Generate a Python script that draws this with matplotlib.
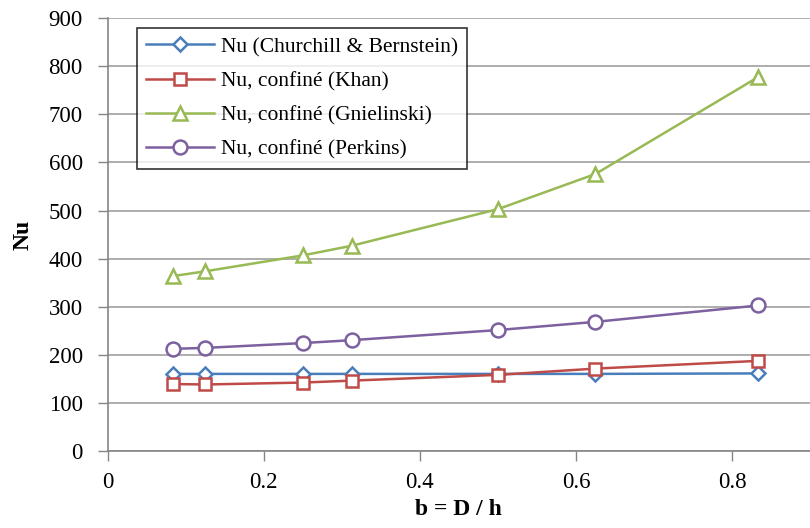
import matplotlib.pyplot as plt

# Data
b_values = [1/12, 0.125, 0.25, 0.3125, 0.5, 0.625, 5/6]
nu_churchill = [161, 161, 161, 161, 161, 161, 162]
nu_khan = [140, 139, 143, 147, 159, 172, 188]
nu_gnielinski = [364, 374, 407, 427, 503, 576, 777]
nu_perkins = [213, 215, 225, 231, 252, 269, 303]

labels = ["Nu (Churchill & Bernstein)", "Nu, confiné (Khan)",
          "Nu, confiné (Gnielinski)", "Nu, confiné (Perkins)"]
x_ticks = [0, 0.2, 0.4, 0.6, 0.8]
x_ticklabels = ['0', '0.2', '0.4', '0.6', '0.8']
y_ticks = [0, 100, 200, 300, 400, 500, 600, 700, 800, 900]

plt.rcParams['font.family'] = ['Liberation Serif', 'DejaVu Serif']

fig = plt.figure(figsize=(8.1, 5.28), dpi=100)
ax = fig.add_axes([0.133, 0.145, 0.867, 0.821])

grey = '#868686'

# Series: values, colour, marker, marker size
series = [
    (nu_churchill, '#4A7EBB', 'D', 7),
    (nu_khan, '#BE4B48', 's', 9),
    (nu_gnielinski, '#98B954', '^', 10),
    (nu_perkins, '#7D60A0', 'o', 10),
]
for (vals, col, mk, ms), lab in zip(series, labels):
    ax.plot(b_values, vals, color=col, lw=1.8, marker=mk, markersize=ms,
            markerfacecolor='white', markeredgecolor=col, markeredgewidth=1.8,
            label=lab, zorder=3, clip_on=False)

ax.set_xlim(0, 0.9)
ax.set_ylim(0, 900)
ax.set_xticks(x_ticks)
ax.set_xticklabels(x_ticklabels)
ax.set_yticks(y_ticks)

ax.grid(axis='y', color='#A0A0A0', lw=1.2, zorder=0)
ax.set_axisbelow(True)

for side in ['top', 'right']:
    ax.spines[side].set_visible(False)
for side in ['left', 'bottom']:
    ax.spines[side].set_color(grey)
    ax.spines[side].set_linewidth(1.2)

ax.tick_params(axis='both', direction='out', length=7, width=1,
               color=grey, labelsize=16.5, labelcolor='black')
ax.tick_params(axis='x', pad=8)
ax.tick_params(axis='y', pad=11)

ax.set_xlabel('b = D / h', fontsize=17, fontweight='bold', labelpad=4)
ax.set_ylabel('Nu', fontsize=17, fontweight='bold', labelpad=11)

leg = ax.legend(loc='upper left', bbox_to_anchor=(0.041, 0.977),
                borderaxespad=0, fontsize=15.5,
                frameon=True, fancybox=False, edgecolor='black',
                handlelength=3.2, borderpad=0.42, labelspacing=0.66,
                handletextpad=0.3)
leg.get_frame().set_linewidth(1.2)

fig.savefig('out.png', dpi=100)
